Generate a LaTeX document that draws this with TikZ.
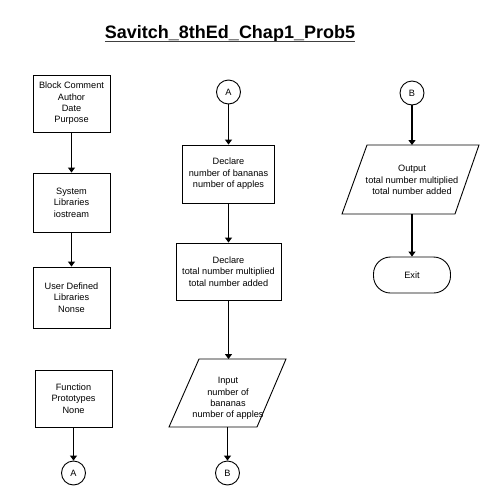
\documentclass[tikz,border=0pt]{standalone}
\usepackage{fontspec}
\setmainfont{Liberation Sans}
\usetikzlibrary{arrows.meta}
\begin{document}
\begin{tikzpicture}[x=1pt,y=-1pt,
  every node/.style={font=\fontsize{9.2}{11.4}\selectfont, align=center, inner sep=0pt},
  box/.style={draw, line width=0.9pt, minimum width=77pt, minimum height=57pt},
  conn/.style={draw, circle, line width=0.9pt, minimum size=24pt},
  flow/.style={line width=1.4pt, -{Triangle[length=5pt,width=7pt]}},
  frame/.style={line width=0.9pt, line join=miter}]
\useasboundingbox (0,0) rectangle (480,499);
% title
\node[font=\bfseries\fontsize{18}{20}\selectfont, anchor=base] (title) at (230,38) {Savitch\_8thEd\_Chap1\_Prob5};
\draw[line width=1.6pt, black!75] ([yshift=-3.5pt]title.base west) -- ([yshift=-3.5pt]title.base east);
% left column
\node[box] (b1) at (71.5,103.5) {Block Comment\\Author\\Date\\Purpose};
\node[box, minimum height=59pt] (b2) at (71.5,202.5) {System\\Libraries\\iostream};
\node[box, minimum height=61pt] (b3) at (71.5,297.5) {User Defined\\Libraries\\Nonse};
\node[box] (b4) at (73.5,398.5) {Function\\Prototypes\\None};
\node[conn] (cA1) at (73.5,473) {A};
\draw[flow] (b1) -- (b2);
\draw[flow] (b2) -- (b3);
\draw[flow] (b4) -- (cA1);
% middle column
\node[conn] (cA2) at (228.5,92) {A};
\node[box, minimum width=92pt, minimum height=58pt] (d1) at (228.5,174) {Declare\\number of bananas\\number of apples};
\node[box, minimum width=105pt] (d2) at (228.5,271.5) {Declare\\total number multiplied\\total number added};
\draw[frame] (169,427) -- (199,359) -- (286,359) -- (257,427) -- cycle;
\node (inTxt) at (228,398.5) {Input\\number of\\bananas\\number of apples};
\coordinate (inT) at (228.5,359);
\coordinate (inB) at (227.5,427);
\node[conn] (cB1) at (227.5,473) {B};
\draw[flow] (cA2) -- (d1);
\draw[flow] (d1) -- (d2);
\draw[flow] (d2.south) -- (inT);
\draw[flow] (inB) -- (cB1);
% right column
\node[conn] (cB2) at (412,93) {B};
\draw[frame] (342,214) -- (367,145) -- (479,145) -- (455,214) -- cycle;
\node (outTxt) at (412,180) {Output\\total number multiplied\\total number added};
\coordinate (outT) at (412,145);
\coordinate (outB) at (412,214);
\node[draw, line width=0.9pt, rounded corners=17pt, minimum width=77pt, minimum height=36pt] (exit) at (412,275) {Exit};
\draw[flow] (cB2) -- (outT);
\draw[flow] (outB) -- (exit);
\end{tikzpicture}
\end{document}
